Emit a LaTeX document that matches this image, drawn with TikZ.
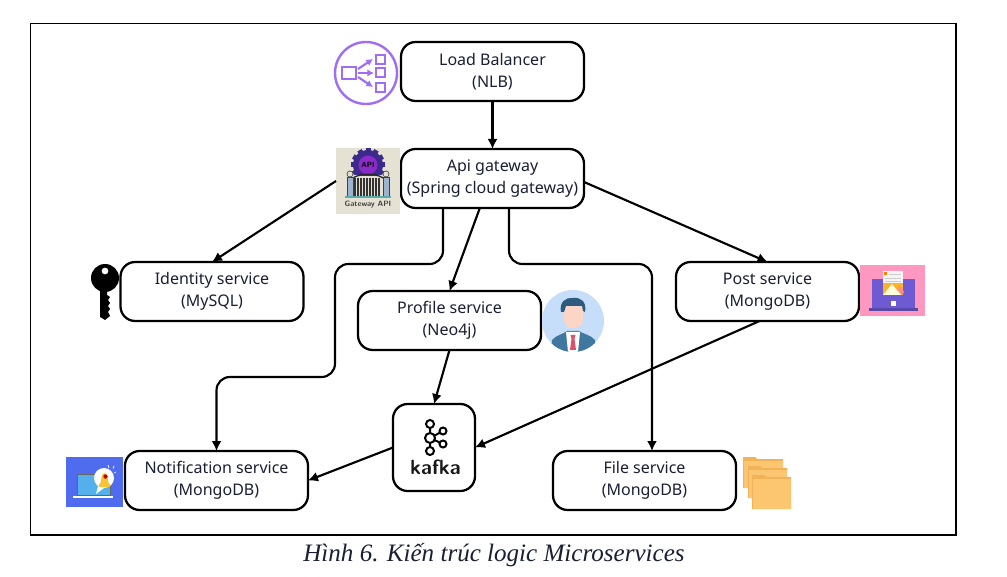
\documentclass[tikz,border=0pt]{standalone}
\usepackage{fontspec}
\setmainfont{Noto Sans}
\newfontfamily\capfont{Liberation Serif}
\usetikzlibrary{arrows.meta,shapes.geometric}
\definecolor{ink}{HTML}{1B1F33}
\definecolor{nlbp}{HTML}{A06EF5}
\definecolor{gwbg}{HTML}{E6E2D3}
\definecolor{gwp}{HTML}{3A2A8C}
\definecolor{gwm}{HTML}{8A2BC8}
\definecolor{gwb}{HTML}{9DB4CF}
\definecolor{nbg}{HTML}{4F6BEE}
\definecolor{lapb}{HTML}{53B0EA}
\definecolor{bell}{HTML}{F8C431}
\definecolor{usr}{HTML}{C6DEFA}
\definecolor{suit}{HTML}{40779F}
\definecolor{hair}{HTML}{2D5B7E}
\definecolor{skin}{HTML}{FBD6C6}
\definecolor{tie}{HTML}{D9536A}
\definecolor{pbg}{HTML}{FF98C0}
\definecolor{plap}{HTML}{6E5BD3}
\definecolor{fold}{HTML}{FBC66F}
\definecolor{foldd}{HTML}{F2B257}
\tikzset{
  x=0.75pt,y=-0.75pt,
  svc/.style={draw=black,line width=1.7pt,rounded corners=11pt,fill=white,minimum width=137.25pt,minimum height=44.25pt,inner sep=0pt,outer sep=0pt,align=center,text=ink,font=\fontsize{12}{16.6}\selectfont},
  kbox/.style={draw=black,line width=1.7pt,rounded corners=11pt,fill=white,minimum width=61.5pt,minimum height=65.25pt,inner sep=0pt,outer sep=0pt},
  conn/.style={draw=black,line width=1.6pt,-{Latex[length=7.5pt,width=7.5pt]}},
  bendconn/.style={conn,rounded corners=10pt},
  picbox/.style={inner sep=0pt,outer sep=0pt},
}
\begin{document}
\begin{tikzpicture}
\useasboundingbox (0,0) rectangle (1007,577);
\fill[white] (0,0) rectangle (1007,577);
\draw[black,line width=1pt] (30.5,23.5) rectangle (956,535);

% boxes
\node[svc] (lb) at (492.5,71.5) {Load Balancer\\(NLB)};
\node[svc] (api) at (492.5,178.5) {Api gateway\\(Spring cloud gateway)};
\node[svc] (iden) at (212,291.5) {Identity service\\(MySQL)};
\node[svc] (prof) at (449.5,320.5) {Profile service\\(Neo4j)};
\node[svc] (post) at (767.5,291.5) {Post service\\(MongoDB)};
\node[svc] (notif) at (216.5,480.5) {Notification service\\(MongoDB)};
\node[svc] (file) at (644.5,480.5) {File service\\(MongoDB)};
\node[kbox] (kafka) at (434,447.5) {};

% Gateway icon background (connector starts at it)
\node[picbox,fill=gwbg,minimum width=48pt,minimum height=49.5pt] (gwicon) at (368,181) {};

% connectors
\draw[conn] (lb) -- (api);
\draw[conn] (gwicon.west) -- (iden.north);
\draw[conn] ([yshift=-2.6pt]api.east) -- (post.north);
\draw[conn] ([xshift=-9.5pt]api.south) -- (prof.north);
\draw[bendconn] ([xshift=-37.1pt]api.south) -- (443,264) -- (335,264) -- (335,377) -- (216.5,377) -- (notif.north);
\draw[bendconn] ([xshift=12.4pt]api.south) -- (509,264) -- (652,264) -- ([xshift=5.6pt]file.north);
\draw[conn] (prof.south) -- (kafka.north);
\draw[conn] ([xshift=-6pt]post.south) -- (kafka.east);
\draw[conn] (kafka.west) -- (notif.east);

% NLB icon
\node[draw=nlbp,line width=1.8pt,circle,minimum size=46.5pt,inner sep=0pt] (nlbicon) at (366,73) {};
\begin{scope}[draw=nlbp,line width=1.6pt]
\draw (342,67) rectangle (356,79);
\draw (376,55) rectangle (385,64);
\draw (376,68) rectangle (385,77);
\draw (376,83) rectangle (385,92);
\draw[-{Latex[length=5pt,width=5.5pt]}] (358,69) -- (373,59);
\draw[-{Latex[length=5pt,width=5.5pt]}] (358,73) -- (374,73);
\draw[-{Latex[length=5pt,width=5.5pt]}] (358,77) -- (373,87);
\end{scope}

% Gateway API icon
\foreach \a in {0,30,...,330}{
  \fill[gwp,rotate around={\a:(368,165)}] (365.5,148) rectangle (370.5,156);
}
\fill[gwp] (368,165) circle[radius=15];
\fill[gwm] (368,165) circle[radius=9.5];
\node[picbox,font=\sffamily\bfseries\fontsize{5.6}{6}\selectfont,text=black] (gwapi) at (368,165) {API};
\fill[gwbg] (350,174) .. controls (360,177) and (376,177) .. (386,174) -- (386,198) -- (350,198) -- cycle;
\foreach \x in {355,358,...,381}{\draw[black!80,line width=0.85pt] (\x,178) -- (\x,196);}
\draw[black!85,line width=1pt] (353,178) .. controls (360,173) and (376,173) .. (383,178);
\filldraw[fill=gwb,draw=black!75,line width=0.5pt] (347,177) rectangle (353,196);
\filldraw[fill=gwb,draw=black!75,line width=0.5pt] (383,177) rectangle (389,196);
\filldraw[fill=gwbg,draw=black!75,line width=0.5pt] (350,174) circle[radius=3];
\filldraw[fill=gwbg,draw=black!75,line width=0.5pt] (386,174) circle[radius=3];
\fill[teal!65] (345,196) rectangle (391,198.5);
\node[picbox,font=\sffamily\bfseries\fontsize{5.8}{6}\selectfont,text=black!75] (gwtxt) at (368,205) {Gateway API};

% key
\fill[black,even odd rule] (105,278) circle[radius=14] (105,271) circle[radius=3.5];
\fill[black] (100,288) -- (107,288) -- (107,295) -- (110,297) -- (108,300) -- (110,303) -- (108,306) -- (110,309) -- (108,312) -- (110,316) -- (105,320) -- (100,317) -- cycle;

% notification icon
\fill[nbg] (66,457) rectangle (123,506.5);
\filldraw[fill=lapb,draw=black!60,line width=0.4pt] (77,474) rectangle (110,495);
\fill[white] (73,496) rectangle (113,497.5);
\fill[white] (104,478) circle[radius=10];
\fill[white] (98,486) -- (96,494) -- (104,488) -- cycle;
\fill[bell] (100,484) .. controls (102,481) and (100,474) .. (104.5,473) .. controls (109,474) and (107,481) .. (109,484) -- cycle;
\fill[bell] (99,484) rectangle (110,486.5);
\fill[red!75!black] (105.5,476.5) circle[radius=2.2];
\draw[white,line width=0.5pt] (108,465) -- (109,468) (114,466) -- (113,468.5) (116,472) -- (114,473);

% user icon
\fill[usr] (573,321) circle[radius=31];
\begin{scope}
\clip (573,321) circle[radius=31];
\fill[suit] (551,352) -- (552,340) .. controls (556,335) and (564,334) .. (567,331) -- (579,331) .. controls (583,334) and (591,335) .. (595,340) -- (596,352) -- cycle;
\fill[white] (566,332) -- (580,332) -- (578,352) -- (568,352) -- cycle;
\fill[tie] (570.5,335) -- (575.5,335) -- (574.5,339) -- (576,350) -- (570,350) -- (571.5,339) -- cycle;
\end{scope}
\fill[skin] (564,304) -- (583,304) -- (583,320) .. controls (582,331) and (565,331) .. (564,320) -- cycle;
\fill[hair] (561,312) .. controls (559,302) and (566,297) .. (573,298) .. controls (581,297) and (587,302) .. (585,312) -- (583,311) -- (582,306) -- (566,306) -- (564,312) -- cycle;

% post icon
\fill[pbg] (860,265) rectangle (925,316);
\fill[plap] (872,279) rectangle (915,308);
\fill[plap!80!black] (869,308) rectangle (918,311);
\fill[white!92!gray] (883,271) rectangle (903,295);
\draw[black!20,line width=0.5pt] (889,274) -- (901,274) (885,278) -- (901,278) (885,281) -- (901,281);
\fill[bell!75!orange] (883,283) rectangle (903,295);
\fill[white!85!yellow] (883,295) -- (892,284) -- (901,295) -- cycle;
\fill[red!45!white] (897,288) -- (900,286) -- (904,292) -- (902,295) -- cycle;
\fill[orange] (884,272.5) rectangle (887,275);
\fill[white] (891,301) rectangle (896,306);

% folders
\foreach \xa/\ya/\xb/\yb in {743/459/783/488, 748/468/787/498, 752/477/791/509}{
  \fill[foldd] (\xa,\yb) -- (\xa,\ya-2) -- (\xa+12,\ya-2) -- (\xa+14,\ya) -- (\xb,\ya) -- (\xb,\yb) -- cycle;
  \fill[fold] (\xa+1,\yb) -- (\xa+1,\ya+2) -- (\xb,\ya+2) -- (\xb,\yb) -- cycle;
}

% kafka logo
\begin{scope}[draw=black,line width=1.5pt]
\draw (430,424) -- (430,451) (430,438) -- (443,431) (430,438) -- (443,444);
\filldraw[fill=white] (430,424) circle[radius=4];
\filldraw[fill=white] (430,438) circle[radius=5];
\filldraw[fill=white] (430,451) circle[radius=4];
\filldraw[fill=white] (443,431) circle[radius=3.5];
\filldraw[fill=white] (443,444) circle[radius=3.5];
\end{scope}
\node[picbox,font=\sffamily\bfseries\fontsize{15.5}{16}\selectfont,text=black!90] (kafkatxt) at (435.5,467.5) {kafka};

% caption
\node[picbox,font=\capfont\itshape\fontsize{18.8}{22}\selectfont,text=ink] (cap) at (494,555) {Hình 6. Kiến trúc logic Microservices};
\end{tikzpicture}
\end{document}
